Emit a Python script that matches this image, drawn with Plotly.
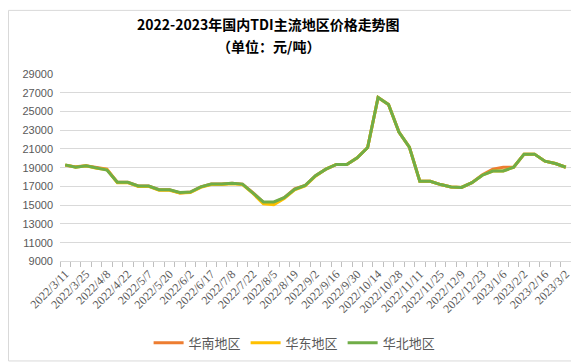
import plotly.graph_objects as go

dates = ["2022/3/11", "2022/3/18", "2022/3/25", "2022/4/1", "2022/4/8", "2022/4/15",
         "2022/4/22", "2022/4/29", "2022/5/7", "2022/5/13", "2022/5/20", "2022/5/27",
         "2022/6/2", "2022/6/10", "2022/6/17", "2022/6/24", "2022/7/8", "2022/7/15",
         "2022/7/22", "2022/7/29", "2022/8/5", "2022/8/12", "2022/8/19", "2022/8/26",
         "2022/9/2", "2022/9/9", "2022/9/16", "2022/9/23", "2022/9/30", "2022/10/8",
         "2022/10/14", "2022/10/21", "2022/10/28", "2022/11/4", "2022/11/11", "2022/11/18",
         "2022/11/25", "2022/12/2", "2022/12/9", "2022/12/16", "2022/12/23", "2022/12/30",
         "2023/1/6", "2023/1/13", "2023/2/2", "2023/2/9", "2023/2/16", "2023/2/23",
         "2023/3/2"]

huabei = [19300, 19050, 19200, 18950, 18750, 17450, 17450, 17050, 17050, 16650,
          16650, 16350, 16400, 16950, 17250, 17250, 17350, 17250, 16350, 15350,
          15350, 15800, 16700, 17100, 18150, 18850, 19350, 19350, 20050, 21150,
          26500, 25750, 22800, 21200, 17550, 17550, 17200, 16950, 16900, 17400,
          18200, 18650, 18650, 19050, 20450, 20450, 19700, 19450, 19050]

huanan = [19250, 19100, 19200, 19050, 18850, 17450, 17450, 17050, 17050, 16650,
          16650, 16300, 16400, 16950, 17250, 17250, 17350, 17250, 16350, 15300,
          15250, 15800, 16750, 17100, 18150, 18850, 19350, 19350, 20050, 21150,
          26500, 25750, 22800, 21200, 17550, 17550, 17200, 16950, 16900, 17400,
          18250, 18850, 19050, 19050, 20450, 20450, 19700, 19450, 19050]

huadong = [19300, 19050, 19200, 18950, 18800, 17400, 17400, 17000, 17000, 16600,
           16600, 16300, 16350, 16900, 17200, 17200, 17300, 17200, 16250, 15150,
           15050, 15700, 16650, 17050, 18100, 18850, 19350, 19350, 20050, 21150,
           26500, 25750, 22800, 21200, 17550, 17550, 17200, 16950, 16900, 17400,
           18200, 18650, 18650, 19050, 20450, 20450, 19700, 19450, 19050]

series_names = ["华南地区", "华东地区", "华北地区"]
series_colors = ["#ED7D31", "#FFC000", "#70AD47"]
series_values = [huanan, huadong, huabei]

y_ticks = list(range(9000, 29001, 2000))
y_tick_text = [str(v) for v in y_ticks]
tick_text = [d if i % 2 == 0 else "" for i, d in enumerate(dates)]

fig = go.Figure()
for name, color, vals in zip(series_names, series_colors, series_values):
    fig.add_trace(go.Scatter(x=dates, y=vals, name=name, mode="lines",
                             line=dict(color=color, width=3)))

W, H = 579, 362
L, R, T, B = 52, 16, 66, 103
pw = W - L - R
ph = H - T - B

def px_x(x):
    return (x - L) / pw

def px_y(y):
    return (H - B - y) / ph

fig.update_layout(
    width=W, height=H,
    margin=dict(l=L, r=R, t=T, b=B),
    paper_bgcolor="white", plot_bgcolor="white",
    font=dict(family="Liberation Sans, Noto Sans CJK SC", color="#595959"),
    showlegend=True,
    legend=dict(orientation="h", xref="container", yref="container",
                x=0.495, xanchor="center", y=0.075, yanchor="middle",
                font=dict(size=13, color="#595959", family="Noto Sans CJK SC"),
                itemwidth=30, tracegroupgap=0),
    xaxis=dict(type="category", tickmode="array", tickvals=dates, ticktext=tick_text,
               tickangle=-45, tickson="boundaries", ticks="outside", ticklen=5,
               tickcolor="#BFBFBF", showline=True, linecolor="#D9D9D9", linewidth=1,
               showgrid=False, range=[-0.5, len(dates) - 0.5],
               tickfont=dict(family="Liberation Serif, Noto Sans CJK SC", size=12, color="#595959")),
    yaxis=dict(range=[9000, 29000], tickmode="array", tickvals=y_ticks, ticktext=y_tick_text,
               showgrid=True, gridcolor="#D9D9D9", gridwidth=1, zeroline=False,
               showline=False, ticks="", ticklabelstandoff=6,
               tickfont=dict(size=11, color="#595959")),
    annotations=[
        dict(text="<b>2022-2023年国内TDI主流地区价格走势图</b>", xref="paper", yref="paper",
             x=px_x(260), y=px_y(15), xanchor="center", yanchor="middle", showarrow=False,
             font=dict(size=14, color="#000000", family="Noto Sans CJK SC")),
        dict(text="<b>（单位：元/吨）</b>", xref="paper", yref="paper",
             x=px_x(260), y=px_y(37), xanchor="center", yanchor="middle", showarrow=False,
             font=dict(size=14, color="#000000", family="Noto Sans CJK SC")),
    ],
    shapes=[dict(type="rect", xref="paper", yref="paper",
                 x0=px_x(0.5), x1=px_x(W - 2.5), y0=px_y(H - 0.5), y1=px_y(0.5),
                 line=dict(color="#D9D9D9", width=1), layer="below")],
)

fig.write_html("out.html")
